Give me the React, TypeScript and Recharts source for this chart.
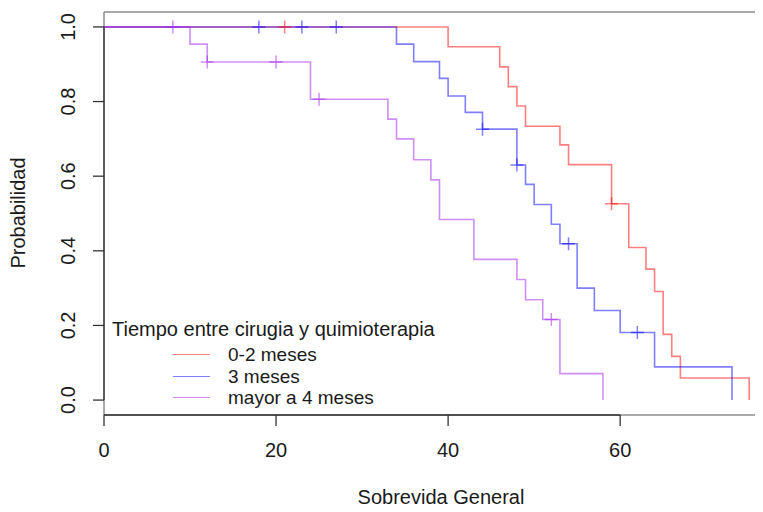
import React from 'react';
import { ComposedChart, Line, Scatter, XAxis, YAxis, ReferenceLine } from 'recharts';

// Kaplan-Meier step data (time, survival)
const redTimes = [0, 40, 46, 47, 48, 49, 53, 54, 59, 61, 63, 64, 65, 66, 67, 75];
const redSurv = [1, 0.947, 0.893, 0.84, 0.788, 0.734, 0.684, 0.631, 0.526, 0.409, 0.351, 0.291, 0.176, 0.117, 0.059, 0];
const blueTimes = [0, 34, 36, 39, 40, 42, 44, 48, 49, 50, 52, 53, 55, 57, 60, 64, 73];
const blueSurv = [1, 0.954, 0.907, 0.862, 0.815, 0.771, 0.726, 0.63, 0.578, 0.524, 0.471, 0.419, 0.3, 0.24, 0.181, 0.089, 0];
const purpleTimes = [0, 10, 12, 24, 33, 34, 36, 38, 39, 43, 48, 49, 51, 53, 58];
const purpleSurv = [1, 0.954, 0.906, 0.806, 0.753, 0.7, 0.644, 0.59, 0.484, 0.377, 0.323, 0.269, 0.216, 0.071, 0];

// Censor marks
const redCensorTimes = [21, 59];
const redCensorSurv = [1, 0.526];
const blueCensorTimes = [18, 23, 27, 44, 48, 54, 62];
const blueCensorSurv = [1, 1, 1, 0.726, 0.63, 0.419, 0.181];
const purpleCensorTimes = [8, 12, 20, 25, 52];
const purpleCensorSurv = [1, 0.906, 0.906, 0.806, 0.216];

const xTicks = [0, 20, 40, 60];
const yTicks = [0, 0.2, 0.4, 0.6, 0.8, 1.0];

const legendTitle = 'Tiempo entre cirugia y quimioterapia';
const seriesNames = ['0-2 meses', '3 meses', 'mayor a 4 meses'];
const seriesColors = ['rgba(255,0,0,0.5)', 'rgba(0,0,255,0.5)', 'rgba(160,32,240,0.5)'];

const zip = (ts: number[], ss: number[]) => ts.map((t, i) => ({ t, s: ss[i] }));

const curves = [zip(redTimes, redSurv), zip(blueTimes, blueSurv), zip(purpleTimes, purpleSurv)];
const censors = [
  zip(redCensorTimes, redCensorSurv),
  zip(blueCensorTimes, blueCensorSurv),
  zip(purpleCensorTimes, purpleCensorSurv),
];

const FONT = '"Liberation Sans", Arial, Helvetica, sans-serif';
const TEXT = '#1a1a1a';

const makePlus = (color: string) => (props: any) => {
  const { cx, cy } = props;
  if (cx == null || cy == null) return <g />;
  return (
    <path
      d={`M${cx - 6.5},${cy}h13M${cx},${cy - 6.5}v13`}
      stroke={color}
      strokeWidth={1.5}
      fill="none"
    />
  );
};

const YTick = (props: any) => {
  const { y, payload } = props;
  const x = 60;
  return (
    <text
      x={x}
      y={y}
      transform={`rotate(-90 ${x} ${y})`}
      textAnchor="middle"
      dominantBaseline="central"
      fill={TEXT}
      fontSize={20}
      fontFamily={FONT}
    >
      {Number(payload.value).toFixed(1)}
    </text>
  );
};

const ITEM_FONT = 19;
const ITEM_STEP = 21.3;

export default function App() {
  return (
    <div style={{ position: 'relative', width: 755, height: 504, overflow: 'hidden', background: '#fff' }}>
      <ComposedChart
        width={790}
        height={504}
        margin={{ top: 4, right: 23, bottom: 37, left: 0 }}
      >
        <XAxis
          dataKey="t"
          type="number"
          domain={[0, 78]}
          ticks={xTicks}
          axisLine={false}
          tickLine={{ stroke: '#333', strokeWidth: 1.3 }}
          tickSize={11}
          tickMargin={17}
          height={60}
          tick={{ fill: TEXT, fontSize: 20, fontFamily: FONT }}
          interval={0}
        />
        <YAxis
          dataKey="s"
          type="number"
          domain={[-0.04, 1.04]}
          ticks={yTicks}
          axisLine={false}
          tickLine={{ stroke: '#333', strokeWidth: 1.3 }}
          tickSize={11}
          width={96}
          tick={<YTick />}
          interval={0}
        />
        <ReferenceLine y={1.04} stroke="#8c8c8c" strokeWidth={1.5} />
        <ReferenceLine y={-0.04} stroke="#8c8c8c" strokeWidth={1.5} />
        <ReferenceLine x={0} stroke="#8c8c8c" strokeWidth={1.5} />
        <ReferenceLine segment={[{ x: 0, y: -0.04 }, { x: 60, y: -0.04 }]} stroke="#333" strokeWidth={1.3} />
        <ReferenceLine segment={[{ x: 0, y: 0 }, { x: 0, y: 1 }]} stroke="#333" strokeWidth={1.3} />
        {curves.map((d, i) => (
          <Line
            key={'l' + i}
            data={d}
            dataKey="s"
            type="stepAfter"
            stroke={seriesColors[i]}
            strokeWidth={1.6}
            dot={false}
            activeDot={false}
            isAnimationActive={false}
          />
        ))}
        {censors.map((d, i) => (
          <Scatter
            key={'c' + i}
            data={d}
            dataKey="s"
            shape={makePlus(seriesColors[i])}
            isAnimationActive={false}
          />
        ))}
      </ComposedChart>

      <div
        style={{
          position: 'absolute',
          left: 10,
          top: 205,
          transform: 'translate(-50%, -50%) rotate(-90deg)',
          fontFamily: FONT,
          fontSize: 20,
          lineHeight: '20px',
          color: TEXT,
          whiteSpace: 'nowrap',
        }}
      >
        Probabilidad
      </div>
      <div
        style={{
          position: 'absolute',
          left: 433,
          top: 479,
          transform: 'translateX(-50%)',
          fontFamily: FONT,
          fontSize: 20,
          lineHeight: '20px',
          color: TEXT,
          whiteSpace: 'nowrap',
        }}
      >
        Sobrevida General
      </div>

      <div
        style={{
          position: 'absolute',
          left: 104,
          top: 310,
          height: 22,
          fontFamily: FONT,
          fontSize: 20,
          lineHeight: '22px',
          color: TEXT,
          whiteSpace: 'nowrap',
        }}
      >
        {legendTitle}
      </div>
      {seriesNames.map((name, i) => (
        <div
          key={name}
          style={{
            position: 'absolute',
            left: 165,
            top: 336.3 + i * ITEM_STEP,
            height: ITEM_STEP,
            display: 'flex',
            alignItems: 'center',
            fontFamily: FONT,
            fontSize: ITEM_FONT,
            lineHeight: `${ITEM_STEP}px`,
            color: TEXT,
            whiteSpace: 'nowrap',
          }}
        >
          <span style={{ display: 'inline-block', width: 37, height: 0, borderTop: `1.5px solid ${seriesColors[i]}`, marginRight: 18 }} />
          <span>{name}</span>
        </div>
      ))}
    </div>
  );
}
